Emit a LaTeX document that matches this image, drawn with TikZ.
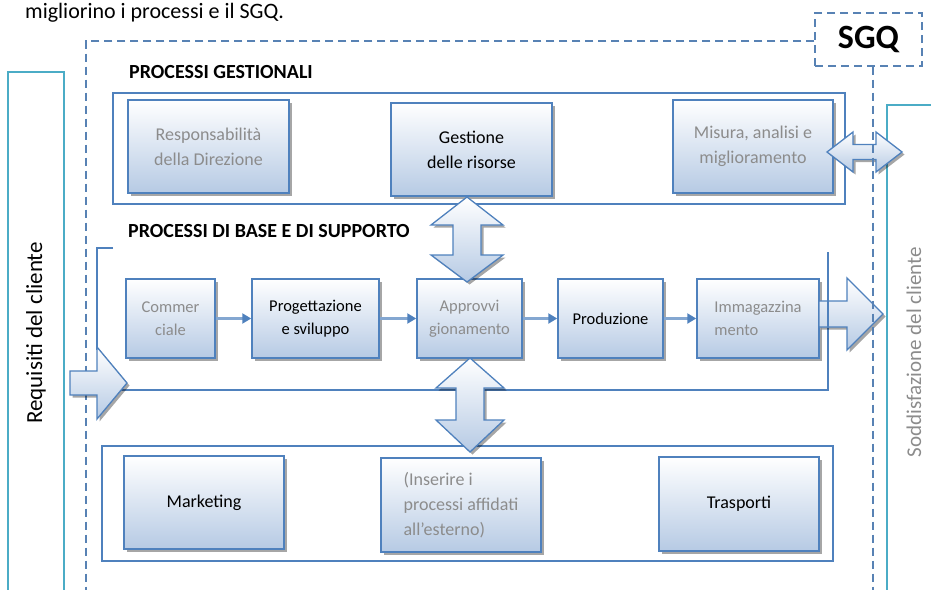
\documentclass[tikz,border=0pt]{standalone}
\usepackage{fontspec}
\setmainfont{Carlito}
\usetikzlibrary{shadows,arrows.meta,calc}
\definecolor{boxblue}{RGB}{79,129,189}
\definecolor{boxfill}{RGB}{182,202,228}
\definecolor{tealc}{RGB}{75,172,198}
\definecolor{dashblue}{RGB}{88,130,180}
\definecolor{blurgray}{RGB}{140,140,140}
\tikzset{
  pbox/.style={draw=boxblue, line width=1.5pt, top color=white, bottom color=boxfill,
    drop shadow={shadow xshift=2.5pt, shadow yshift=-2.5pt, opacity=0.35, fill=black},
    inner sep=2pt, align=center, font=\fontsize{18}{25}\selectfont, text=black},
  rowtxt/.style={font=\fontsize{16.5}{23}\selectfont},
  blurtxt/.style={text=blurgray},
  frame/.style={draw=boxblue, line width=1.3pt, fill=white, inner sep=0pt},
  bracketline/.style={draw=boxblue, line width=1.3pt},
  dashline/.style={draw=dashblue, line width=1.4pt, dash pattern=on 8pt off 5pt},
  tealbox/.style={draw=tealc, line width=2pt, inner sep=0pt},
  bigarrow/.style={draw=boxblue, line width=1.3pt, top color=white, bottom color=boxfill,
    drop shadow={shadow xshift=2.5pt, shadow yshift=-2.5pt, opacity=0.35, fill=black}},
  smallarrow/.style={draw=boxblue!70, line width=2.6pt, -{Triangle[length=9pt,width=10pt,fill=boxblue,color=boxblue]}},
  heading/.style={font=\fontsize{20}{22}\bfseries\selectfont, inner sep=0pt, anchor=west}
}
\begin{document}
\begin{tikzpicture}[x=1pt,y=-1pt]
\useasboundingbox (0,0) rectangle (931,589);
\clip (0,0) rectangle (931,589);

% intro text
\node[anchor=base west, inner sep=0pt, font=\fontsize{22}{24}\selectfont] (intro) at (25,18) {migliorino i processi e il SGQ.};

% teal side boxes
\node[tealbox, rotate=90, minimum width=522pt, minimum height=56pt, font=\fontsize{23}{26}\selectfont] (req) at (36,333) {Requisiti del cliente};
\node[tealbox, rotate=90, minimum width=495pt, minimum height=54pt, font=\fontsize{21}{24}\selectfont, blurtxt] (sodd) at (914,352) {Soddisfazione del cliente};

% SGQ dashed boundary (left and top part)
\node[dashline, minimum width=107pt, minimum height=53pt, inner sep=0pt, font=\fontsize{34}{36}\bfseries\selectfont] (sgq) at (868.5,39.5) {SGQ};
\coordinate (dTL) at (86,41);
\coordinate (dBL) at (86,600);
\coordinate (dBR) at (873,600);
\draw[dashline] (sgq.west |- dTL) -- (dTL) -- (dBL);

% frames
\node[frame, minimum width=732pt, minimum height=111pt] (gframe) at (479,148.5) {};
\node[frame, minimum width=731pt, minimum height=115pt] (bframe) at (467.5,503.5) {};

% headings
\node[heading] (hg) at (129,72) {PROCESSI GESTIONALI};
\node[heading] (hb) at (128,231) {PROCESSI DI BASE E DI SUPPORTO};

% bracket around base processes
\coordinate (brA) at (113,248);
\coordinate (brB) at (97,248);
\coordinate (brC) at (97,350);
\coordinate (brD) at (110,390);
\coordinate (brE) at (828,390);
\coordinate (brF) at (828,252);
\draw[bracketline] (brA) -- (brB) -- (brC);
\draw[bracketline] (brD) -- (brE) -- (brF);

% management boxes
\node[pbox, minimum width=161pt, minimum height=93pt, blurtxt] (resp) at (208.5,146.5) {Responsabilità\\della Direzione};
\node[pbox, minimum width=161pt, minimum height=93pt] (gest) at (471.5,149.5) {Gestione\\delle risorse};
\node[pbox, minimum width=160pt, minimum height=93pt, blurtxt] (mis) at (753,146.5) {Misura, analisi e\\miglioramento};

% base process row
\node[pbox, rowtxt, minimum width=89pt, minimum height=79pt, blurtxt] (comm) at (170.5,318.5) {Commer\\ciale};
\node[pbox, rowtxt, minimum width=127pt, minimum height=79pt] (prog) at (315.5,318.5) {Progettazione\\e sviluppo};
\node[pbox, rowtxt, minimum width=105pt, minimum height=79pt, blurtxt] (appr) at (469.5,318.5) {Approvvi\\gionamento};
\node[pbox, rowtxt, minimum width=105pt, minimum height=79pt] (prod) at (610.5,318.5) {Produzione};
\node[pbox, rowtxt, minimum width=122pt, minimum height=79pt, blurtxt, align=left] (imm) at (758,318.5) {Immagazzina\\mento};

\draw[smallarrow] (comm) -- (prog);
\draw[smallarrow] (prog) -- (appr);
\draw[smallarrow] (appr) -- (prod);
\draw[smallarrow] (prod) -- (imm);

% support boxes
\node[pbox, minimum width=160pt, minimum height=93pt] (mkt) at (204,502.5) {Marketing};
\node[pbox, minimum width=160pt, minimum height=94pt, blurtxt, align=left] (ins) at (461,505) {(Inserire i\\processi affidati\\all'esterno)};
\node[pbox, minimum width=160pt, minimum height=94pt] (tras) at (739,504) {Trasporti};

% big block arrows
\path[bigarrow] (467,197) -- (503,225) -- (481,225) -- (481,255) -- (503,255) -- (467,282)
  -- (431,255) -- (453,255) -- (453,225) -- (431,225) -- cycle;
\path[bigarrow] (470,358) -- (504,388) -- (484,388) -- (484,420) -- (504,420) -- (470,452)
  -- (436,420) -- (456,420) -- (456,388) -- (436,388) -- cycle;
\path[bigarrow] (827,152) -- (853,132) -- (853,144.5) -- (876,144.5) -- (876,132) -- (902,152)
  -- (876,172) -- (876,159.5) -- (853,159.5) -- (853,172) -- cycle;
\path[bigarrow] (70,371) -- (97,371) -- (97,347) -- (127,383) -- (97,419) -- (97,395) -- (70,395) -- cycle;
\path[bigarrow] (819,301) -- (847,301) -- (847,278) -- (883,314) -- (847,350) -- (847,327) -- (819,327) -- cycle;
\draw[bracketline] (828,300) -- (828,328);

% SGQ dashed boundary (right part, over the arrows)
\draw[dashline] (sgq.south -| dBR) -- (dBR);
\end{tikzpicture}
\end{document}
